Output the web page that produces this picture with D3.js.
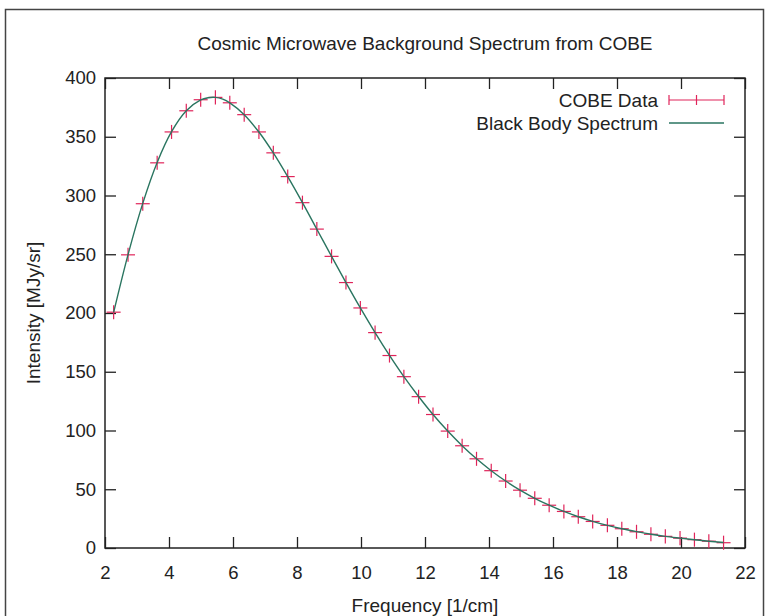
<!DOCTYPE html>
<html>
<head>
<meta charset="utf-8">
<script src="https://cdn.jsdelivr.net/npm/d3@7"></script>
<style>
    body { margin: 0; background: #fff; }
    text { font-family: "Liberation Sans", Arial, sans-serif; fill: #222; }
</style>
</head>
<body>
<div id="chart"></div>
<script>
const frequency = [2.27, 2.72, 3.18, 3.63, 4.08, 4.54, 4.99, 5.45, 5.90, 6.35, 6.81, 7.26, 7.71,
    8.17, 8.62, 9.08, 9.53, 9.98, 10.44, 10.89, 11.34, 11.80, 12.25, 12.71, 13.16, 13.61, 14.07,
    14.52, 14.97, 15.43, 15.88, 16.34, 16.79, 17.24, 17.70, 18.15, 18.61, 19.06, 19.51, 19.97,
    20.42, 20.87, 21.33]
const intensity = [200.7, 249.5, 293.0, 327.8, 354.1, 372.1, 381.5, 383.5, 378.9, 368.8, 354.1,
    336.3, 316.1, 293.9, 271.4, 248.2, 225.9, 204.3, 183.3, 163.8, 145.8, 128.8, 113.6, 99.5,
    87.0, 75.9, 65.8, 57.0, 49.2, 42.3, 36.4, 31.1, 26.6, 22.6, 19.3, 16.4, 13.8, 11.7, 9.9,
    8.4, 7.1, 5.8, 4.5]
// error bars are tiny at this scale (MJy/sr)
const intensity_err = [0.005, 0.009, 0.015, 0.023, 0.022, 0.021, 0.018, 0.014, 0.019, 0.012,
    0.014, 0.010, 0.011, 0.012, 0.011, 0.010, 0.011, 0.013, 0.011, 0.011, 0.011, 0.013, 0.011,
    0.011, 0.012, 0.012, 0.010, 0.010, 0.011, 0.011, 0.011, 0.012, 0.011, 0.012, 0.013, 0.012,
    0.014, 0.019, 0.019, 0.025, 0.023, 0.026, 0.031]

// black body curve
const bb_frequency = [2.27, 2.72, 3.18, 3.63, 4.08, 4.54, 4.99, 5.22, 5.45, 5.68, 5.90, 6.35,
    6.81, 7.26, 7.71, 8.17, 8.62, 9.08, 9.53, 9.98, 10.44, 10.89, 11.34, 11.80, 12.25, 12.71,
    13.16, 13.61, 14.07, 14.52, 14.97, 15.43, 15.88, 16.34, 16.79, 17.24, 17.70, 18.15, 18.61,
    19.06, 19.51, 19.97, 20.42, 20.87, 21.33]
const bb_intensity = [200.5, 249.7, 293.3, 328.1, 354.3, 372.1, 381.3, 383.2, 383.5, 382.0,
    378.8, 368.8, 354.0, 336.2, 316.0, 293.9, 271.3, 248.2, 225.9, 204.3, 183.3, 163.9, 145.8,
    128.9, 113.6, 99.5, 87.1, 75.9, 65.8, 57.0, 49.2, 42.3, 36.4, 31.1, 26.6, 22.7, 19.3, 16.4,
    13.9, 11.7, 9.9, 8.4, 7.0, 5.8, 4.7]

const x_ticks = [2, 4, 6, 8, 10, 12, 14, 16, 18, 20, 22]
const y_ticks = [0, 50, 100, 150, 200, 250, 300, 350, 400]

const cobe_color = "#e0245a"
const bb_color = "#2a7560"

const width = 765, height = 616
const margin = {top: 78, right: 20, bottom: 68, left: 105}
const w = width - margin.left - margin.right
const h = height - margin.top - margin.bottom
const tick_len = 11

const root = d3.select("#chart").append("svg")
    .attr("width", width)
    .attr("height", height)

// outer frame
root.append("rect")
    .attr("x", 5.5).attr("y", 9.5)
    .attr("width", 758).attr("height", 640)
    .attr("fill", "none")
    .attr("stroke", "#444")
    .attr("stroke-width", 1.5)

const svg = root.append("g")
    .attr("transform", "translate(" + margin.left + "," + margin.top + ")")

const x = d3.scaleLinear().domain([2, 22]).range([0, w])
const y = d3.scaleLinear().domain([0, 400]).range([h, 0])

// axes with inward, mirrored ticks
const axis_style = g => {
    g.select(".domain").remove()
    g.selectAll(".tick line").attr("stroke", "#222").attr("stroke-width", 1.3)
    g.selectAll(".tick text")
        .style("font-family", "'Liberation Sans', Arial, sans-serif")
        .style("font-size", "18.5px").attr("fill", "#222")
}

svg.append("g")
    .attr("transform", "translate(0," + h + ")")
    .call(d3.axisBottom(x).tickValues(x_ticks).tickSize(-tick_len).tickPadding(18).tickFormat(d3.format("d")))
    .call(axis_style)

svg.append("g")
    .call(d3.axisTop(x).tickValues(x_ticks).tickSize(-tick_len).tickFormat(""))
    .call(axis_style)

svg.append("g")
    .call(d3.axisLeft(y).tickValues(y_ticks).tickSize(-tick_len).tickPadding(9).tickFormat(d3.format("d")))
    .call(axis_style)

svg.append("g")
    .attr("transform", "translate(" + w + ",0)")
    .call(d3.axisRight(y).tickValues(y_ticks).tickSize(-tick_len).tickFormat(""))
    .call(axis_style)

// plot border
svg.append("rect")
    .attr("width", w).attr("height", h)
    .attr("fill", "none")
    .attr("stroke", "#222")
    .attr("stroke-width", 1.5)

// COBE data: error bars + point markers
const cobe = frequency.map((f, i) => ({f: f, v: intensity[i], e: intensity_err[i]}))
const marker = 7

const pts = svg.append("g").selectAll("g")
    .data(cobe)
    .enter()
    .append("g")
    .attr("stroke", cobe_color)
    .attr("stroke-width", 1.2)

pts.append("line")
    .attr("x1", d => x(d.f) - marker).attr("x2", d => x(d.f) + marker)
    .attr("y1", d => y(d.v)).attr("y2", d => y(d.v))
pts.append("line")
    .attr("x1", d => x(d.f)).attr("x2", d => x(d.f))
    .attr("y1", d => y(d.v + d.e) - marker).attr("y2", d => y(d.v - d.e) + marker)

// black body curve on top
const bb = bb_frequency.map((f, i) => [f, bb_intensity[i]])
svg.append("path")
    .datum(bb)
    .attr("fill", "none")
    .attr("stroke", bb_color)
    .attr("stroke-width", 1.4)
    .attr("d", d3.line().x(d => x(d[0])).y(d => y(d[1])).curve(d3.curveCatmullRom))

// title
svg.append("text")
    .attr("x", w / 2)
    .attr("y", -28)
    .attr("text-anchor", "middle")
    .style("font-size", "19px")
    .text("Cosmic Microwave Background Spectrum from COBE")

// axis labels
svg.append("text")
    .attr("x", w / 2)
    .attr("y", h + 64)
    .attr("text-anchor", "middle")
    .style("font-size", "19px")
    .text("Frequency [1/cm]")

svg.append("text")
    .attr("transform", "rotate(-90)")
    .attr("x", -h / 2)
    .attr("y", -margin.left + 40)
    .attr("text-anchor", "middle")
    .style("font-size", "19px")
    .text("Intensity [MJy/sr]")

// legend
const legend = svg.append("g").attr("transform", "translate(" + (w - 87) + ",22)")
const row_gap = 23
const sample_x0 = 11, sample_x1 = 66
const cap = 5

legend.append("text")
    .attr("x", 0).attr("y", 0).attr("dy", "0.35em")
    .attr("text-anchor", "end")
    .style("font-size", "19px")
    .text("COBE Data")

const key1 = legend.append("g").attr("stroke", cobe_color).attr("stroke-width", 1.2)
key1.append("line").attr("x1", sample_x0).attr("x2", sample_x1).attr("y1", 0).attr("y2", 0)
;[sample_x0, (sample_x0 + sample_x1) / 2, sample_x1].forEach(px => {
    key1.append("line").attr("x1", px).attr("x2", px).attr("y1", -cap).attr("y2", cap)
})

legend.append("text")
    .attr("x", 0).attr("y", row_gap).attr("dy", "0.35em")
    .attr("text-anchor", "end")
    .style("font-size", "19px")
    .text("Black Body Spectrum")

legend.append("line")
    .attr("x1", sample_x0).attr("x2", sample_x1)
    .attr("y1", row_gap).attr("y2", row_gap)
    .attr("stroke", bb_color)
    .attr("stroke-width", 1.4)
</script>
</body>
</html>
